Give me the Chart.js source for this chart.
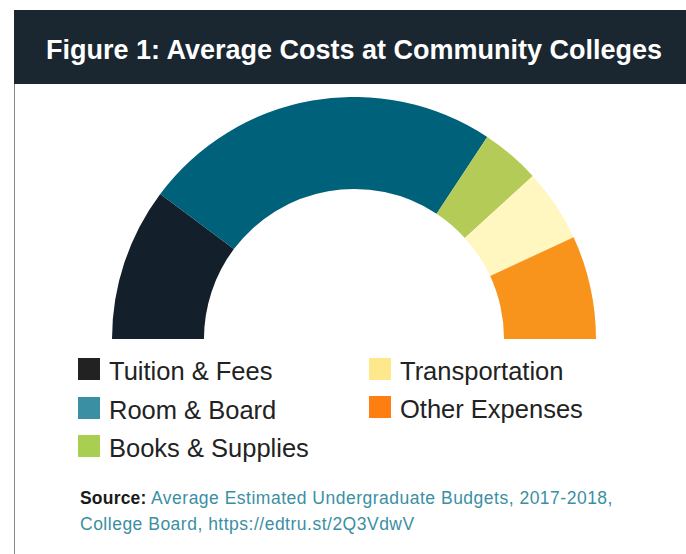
<!DOCTYPE html>
<html>
<head>
<meta charset="utf-8">
<script src="https://cdn.jsdelivr.net/npm/chart.js@4"></script>
<style>
  html, body { margin: 0; padding: 0; background: #ffffff; }
  body { width: 686px; height: 554px; position: relative; overflow: hidden; font-family: "Liberation Sans", Arial, sans-serif; }
  #frame { position: absolute; left: 14px; top: 84px; width: 1px; height: 470px; background: #8a8a8a; }
  #header { position: absolute; left: 14px; top: 10px; width: 672px; height: 74px; background: #1a2630; }
  #title { position: absolute; left: 14px; top: 10px; width: 680px; height: 74px; line-height: 80px; text-align: center; color: #ffffff; font-weight: bold; font-size: 27px; white-space: nowrap; }
  #chartBox { position: absolute; left: 112px; top: 97px; width: 484px; height: 242px; }
  .leg { position: absolute; display: flex; align-items: center; font-size: 25.5px; color: #222222; white-space: nowrap; }
  .leg .sw { width: 22px; height: 22px; margin-right: 9px; }
  #source { position: absolute; left: 80px; top: 485px; font-size: 17.5px; line-height: 26px; letter-spacing: 0.5px; color: #3a8fa3; white-space: nowrap; }
  #source b { color: #1a1a1a; letter-spacing: 0.2px; }
</style>
</head>
<body>
<div id="frame"></div>
<div id="header"></div>
<div id="title">Figure 1: Average Costs at Community Colleges</div>
<div id="chartBox"><canvas id="c"></canvas></div>
<div id="legend"></div>
<div id="source"><b>Source:</b> Average Estimated Undergraduate Budgets, 2017-2018,<br>College Board, https://edtru.st/2Q3VdwV</div>
<script>
const categories = ["Tuition & Fees", "Room & Board", "Books & Supplies", "Transportation", "Other Expenses"];
const costs = [3570, 8400, 1380, 1700, 2410];
const arcColors = ["#13202b", "#00617a", "#b4cb58", "#fff6c0", "#f8941c"];
const legendColors = ["#222222", "#3a8fa3", "#a9cf52", "#fde88c", "#ff7e12"];

new Chart(document.getElementById("c"), {
  type: "doughnut",
  data: {
    labels: categories,
    datasets: [{ data: costs, backgroundColor: arcColors, borderWidth: 0 }]
  },
  options: {
    responsive: true,
    maintainAspectRatio: false,
    animation: false,
    rotation: -90,
    circumference: 180,
    cutout: "62%",
    layout: { padding: 0 },
    plugins: { legend: { display: false }, tooltip: { enabled: false } }
  }
});

// legend: two columns, column-major
const legendPos = [
  [78, 358], [78, 397], [78, 435],
  [369, 358], [369, 396]
];
const legendEl = document.getElementById("legend");
categories.forEach((name, i) => {
  const d = document.createElement("div");
  d.className = "leg";
  d.style.left = legendPos[i][0] + "px";
  d.style.top = (legendPos[i][1] - 3) + "px";
  d.style.height = "28px";
  const sw = document.createElement("span");
  sw.className = "sw";
  sw.style.background = legendColors[i];
  const t = document.createElement("span");
  t.textContent = name;
  t.style.position = "relative";
  t.style.top = "2px";
  d.appendChild(sw);
  d.appendChild(t);
  legendEl.appendChild(d);
});
</script>
</body>
</html>
